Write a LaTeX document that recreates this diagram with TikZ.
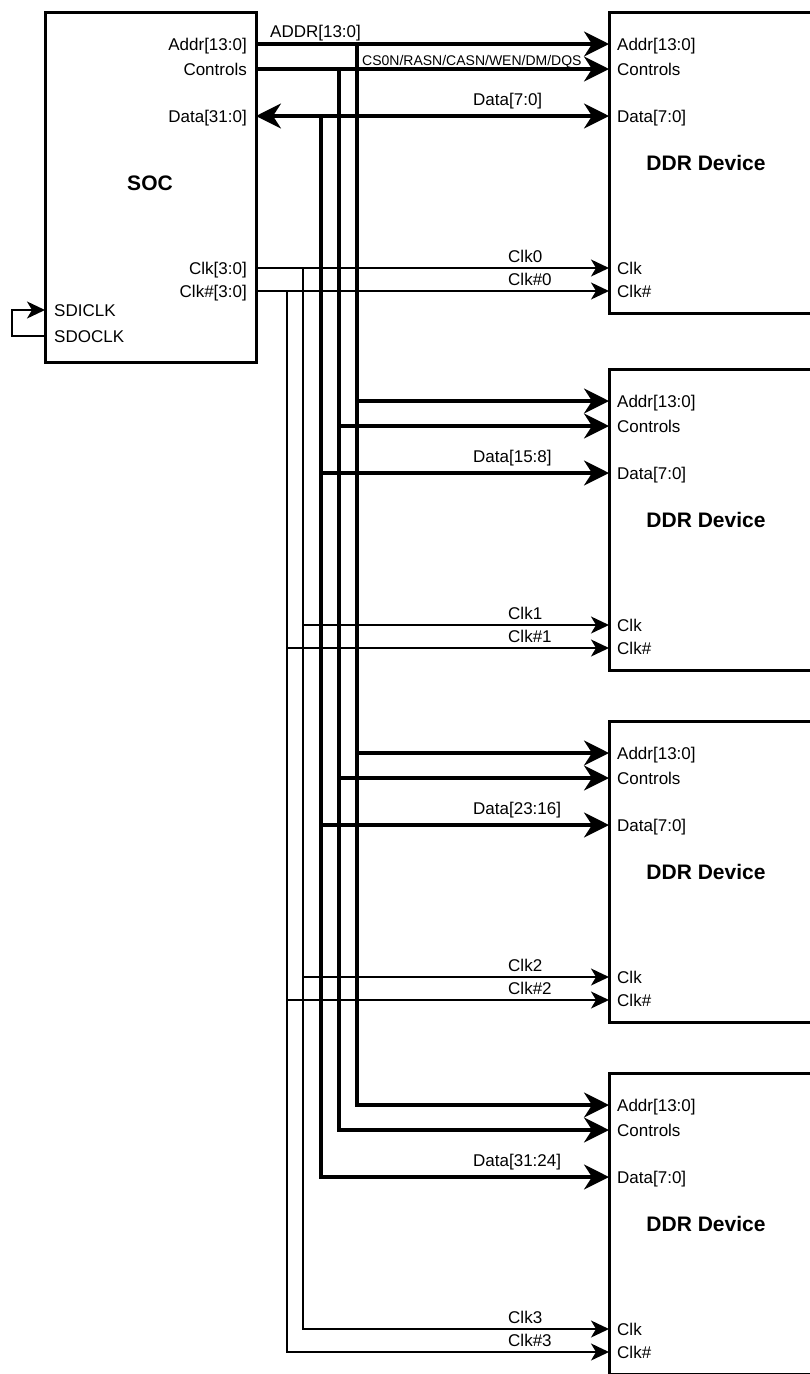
\documentclass[tikz,border=0pt]{standalone}
\usepackage{fontspec}
\setmainfont{Liberation Sans}
\usetikzlibrary{arrows.meta, positioning, calc}

\begin{document}
\begin{tikzpicture}[
  x=1pt, y=-1pt,
  chip/.style = {draw, line width=3pt, inner sep=0pt, outer sep=0pt},
  bus/.style = {line width=3.2pt},
  wire/.style = {line width=1.6pt},
  bustip/.style = {-{Stealth[length=25pt, width=25pt, inset=8pt]}},
  clktip/.style = {-{Stealth[length=18pt, width=17pt, inset=5pt]}},
  port/.style = {inner sep=0pt, font=\fontsize{17}{20}\selectfont},
  tiny/.style = {inner sep=0pt, font=\fontsize{14}{16}\selectfont},
  title/.style = {inner sep=0pt, font=\fontsize{21}{24}\selectfont\bfseries}
]

\useasboundingbox (0,0) rectangle (809,1374);

% SOC block
\node[chip, minimum width=211pt, minimum height=350pt, anchor=north west] (soc) at (45,12) {};
\node[title] (soc-name) at (150,183) {SOC};

% SOC pins
\coordinate (soc-addr) at ($(soc.north east)+(0,32)$);
\coordinate (soc-ctrl) at ($(soc.north east)+(0,57)$);
\coordinate (soc-data) at ($(soc.north east)+(0,104)$);
\coordinate (soc-clk)  at ($(soc.north east)+(0,256)$);
\coordinate (soc-clkn) at ($(soc.north east)+(0,279)$);
\coordinate (soc-sdi)  at ($(soc.north west)+(0,298)$);
\coordinate (soc-sdo)  at ($(soc.north west)+(0,324)$);

\node[port, anchor=base east] (soc-addr-l) at ($(soc-addr)+(-9,6)$) {Addr[13:0]};
\node[port, anchor=base east] (soc-ctrl-l) at ($(soc-ctrl)+(-9,6)$) {Controls};
\node[port, anchor=base east] (soc-data-l) at ($(soc-data)+(-9,6)$) {Data[31:0]};
\node[port, anchor=base east] (soc-clk-l)  at ($(soc-clk)+(-9,6)$) {Clk[3:0]};
\node[port, anchor=base east] (soc-clkn-l) at ($(soc-clkn)+(-9,6)$) {Clk\#[3:0]};
\node[port, anchor=base west] (soc-sdi-l)  at ($(soc-sdi)+(9,6)$) {SDICLK};
\node[port, anchor=base west] (soc-sdo-l)  at ($(soc-sdo)+(9,6)$) {SDOCLK};

% clock loop back
\draw[wire, clktip] (soc-sdo) -- ++(-33,0) |- (soc-sdi);

% bus taps
\coordinate (a-tap) at ($(soc-addr)+(101,0)$);
\coordinate (c-tap) at ($(soc-ctrl)+(83,0)$);
\coordinate (d-tap) at ($(soc-data)+(65,0)$);
\coordinate (k-tap) at ($(soc-clk)+(47,0)$);
\coordinate (n-tap) at ($(soc-clkn)+(31,0)$);

% DDR devices
\foreach \k/\o/\dlab [count=\i from 0] in {1/0/{Data[7:0]}, 2/357/{Data[15:8]}, 3/709/{Data[23:16]}, 4/1061/{Data[31:24]}} {
  \node[chip, minimum width=206pt, minimum height=301pt, anchor=north west] (dev\k) at (609,12+\o) {};
  \node[title] (dev\k-name) at ($(dev\k.north west)+(97,151)$) {DDR Device};
  \coordinate (dev\k-addr) at ($(dev\k.north west)+(0,32)$);
  \coordinate (dev\k-ctrl) at ($(dev\k.north west)+(0,57)$);
  \coordinate (dev\k-data) at ($(dev\k.north west)+(0,104)$);
  \coordinate (dev\k-clk)  at ($(dev\k.north west)+(0,256)$);
  \coordinate (dev\k-clkn) at ($(dev\k.north west)+(0,279)$);
  \node[port, anchor=base west] (dev\k-addr-l) at ($(dev\k-addr)+(8,6)$) {Addr[13:0]};
  \node[port, anchor=base west] (dev\k-ctrl-l) at ($(dev\k-ctrl)+(8,6)$) {Controls};
  \node[port, anchor=base west] (dev\k-data-l) at ($(dev\k-data)+(8,6)$) {Data[7:0]};
  \node[port, anchor=base west] (dev\k-clk-l)  at ($(dev\k-clk)+(8,6)$) {Clk};
  \node[port, anchor=base west] (dev\k-clkn-l) at ($(dev\k-clkn)+(8,6)$) {Clk\#};
  % signal names
  \node[port, anchor=base west] (data\k-l) at ($(dev\k-data)+(-136,-11)$) {\dlab};
  \node[port, anchor=base west] (clk\k-l)  at ($(dev\k-clk)+(-101,-6)$) {Clk\i};
  \node[port, anchor=base west] (clkn\k-l) at ($(dev\k-clkn)+(-101,-6)$) {Clk\#\i};
}

\node[port, anchor=base west] (addr-l) at ($(soc-addr)+(14,-7)$) {ADDR[13:0]};
\node[tiny, anchor=base west] (ctrl-l) at ($(a-tap)+(5,21)$) {CS0N/RASN/CASN/WEN/DM/DQS};

% first device, straight from SOC
\draw[bus, bustip] (soc-addr) -- (dev1-addr);
\draw[bus, bustip] (soc-ctrl) -- (dev1-ctrl);
\draw[bus, {Stealth[length=25pt, width=25pt, inset=8pt]}-{Stealth[length=25pt, width=25pt, inset=8pt]}] (soc-data) -- (dev1-data);
\draw[wire, clktip] (soc-clk) -- (dev1-clk);
\draw[wire, clktip] (soc-clkn) -- (dev1-clkn);

% vertical buses down to the last device
\draw[bus, bustip] (a-tap) |- (dev4-addr);
\draw[bus, bustip] (c-tap) |- (dev4-ctrl);
\draw[bus, bustip] (d-tap) |- (dev4-data);
\draw[wire, clktip] (k-tap) |- (dev4-clk);
\draw[wire, clktip] (n-tap) |- (dev4-clkn);

% branches to the middle devices
\foreach \k in {2,3} {
  \draw[bus, bustip] (a-tap |- dev\k-addr) -- (dev\k-addr);
  \draw[bus, bustip] (c-tap |- dev\k-ctrl) -- (dev\k-ctrl);
  \draw[bus, bustip] (d-tap |- dev\k-data) -- (dev\k-data);
  \draw[wire, clktip] (k-tap |- dev\k-clk) -- (dev\k-clk);
  \draw[wire, clktip] (n-tap |- dev\k-clkn) -- (dev\k-clkn);
}

\end{tikzpicture}
\end{document}
